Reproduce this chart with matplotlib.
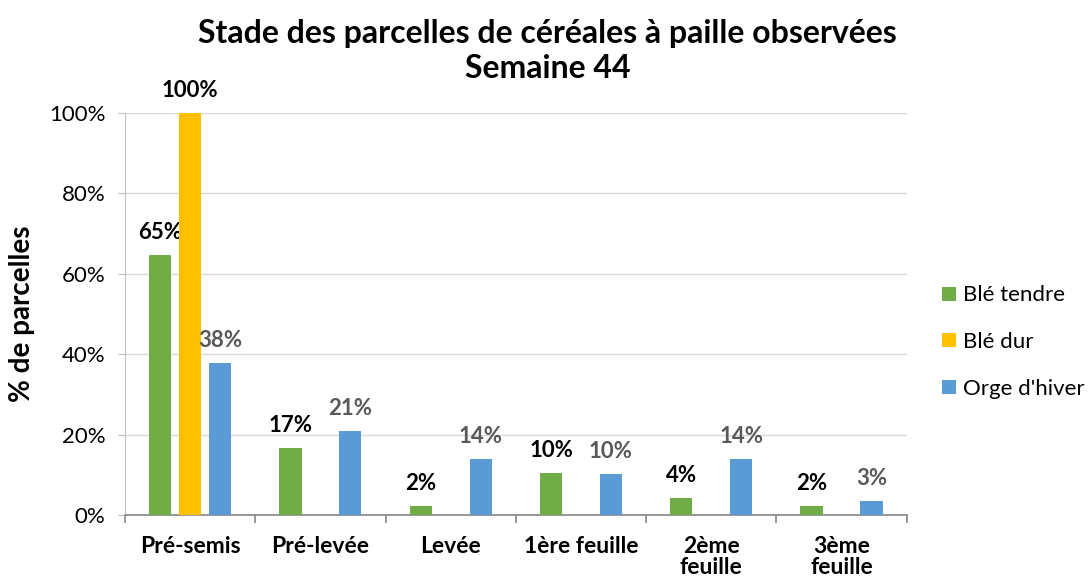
import numpy as np
import matplotlib.pyplot as plt
from matplotlib.ticker import FixedLocator, PercentFormatter

categories = ["Pré-semis", "Pré-levée", "Levée", "1ère feuille", "2ème\nfeuille", "3ème\nfeuille"]
series_names = ["Blé tendre", "Blé dur", "Orge d'hiver"]
ble_tendre = [64.6, 16.6, 2.2, 10.4, 4.2, 2.2]
ble_dur = [100, 0, 0, 0, 0, 0]
orge_hiver = [37.8, 20.8, 13.9, 10.3, 13.9, 3.4]

colors = ["#70AD47", "#FFC000", "#5B9BD5"]
label_colors = ["black", "black", "#595959"]

plt.rcParams['font.family'] = ['Lato', 'DejaVu Sans']

fig = plt.figure(figsize=(10.91, 5.86), dpi=100)
ax = fig.add_axes([0.1146, 0.1212, 0.7164, 0.686])

x = np.arange(len(categories))
width = 0.17
offsets = [-0.23, 0, 0.23]

for vals, name, off, col, lcol in zip([ble_tendre, ble_dur, orge_hiver], series_names,
                                      offsets, colors, label_colors):
    bars = ax.bar(x + off, vals, width, color=col, label=name, zorder=3)
    for b, v in zip(bars, vals):
        if v > 0:
            ax.text(b.get_x() + b.get_width() / 2, v + 3, f"{v:.0f}%",
                    ha='center', va='bottom', fontsize=16, fontweight='bold', color=lcol)

ax.set_xlim(-0.5, len(categories) - 0.5)
ax.set_ylim(0, 100)
ax.set_yticks(range(0, 101, 20))
ax.yaxis.set_major_formatter(PercentFormatter(decimals=0))
ax.grid(axis='y', color='#D9D9D9', linewidth=1, zorder=0)

ax.set_xticks(x)
ax.set_xticklabels(categories, fontsize=16.5, fontweight='bold', va='top', linespacing=1.0)
ax.xaxis.set_minor_locator(FixedLocator(np.arange(-0.5, len(categories), 1)))
ax.tick_params(axis='x', which='major', length=0, pad=15)
ax.tick_params(axis='x', which='minor', length=6, color='#868686', width=1.2)
ax.tick_params(axis='y', length=5, color='#BFBFBF', labelsize=16, pad=9)

for s in ['top', 'right']:
    ax.spines[s].set_visible(False)
ax.spines['left'].set_color('#BFBFBF')
ax.spines['bottom'].set_color('#868686')
ax.spines['bottom'].set_linewidth(1.2)

ax.set_ylabel("% de parcelles", fontsize=20, fontweight='bold', labelpad=10)

fig.text(0.502, 0.913, "Stade des parcelles de céréales à paille observées\nSemaine 44",
         ha='center', va='center', fontsize=23, fontweight='bold', linespacing=1.25)

ax.legend(loc='center left', bbox_to_anchor=(1.02, 0.43), frameon=False, fontsize=16,
          handlelength=0.6, handleheight=0.6, handletextpad=0.35, labelspacing=1.2)

fig.savefig("out.png", dpi=100)
